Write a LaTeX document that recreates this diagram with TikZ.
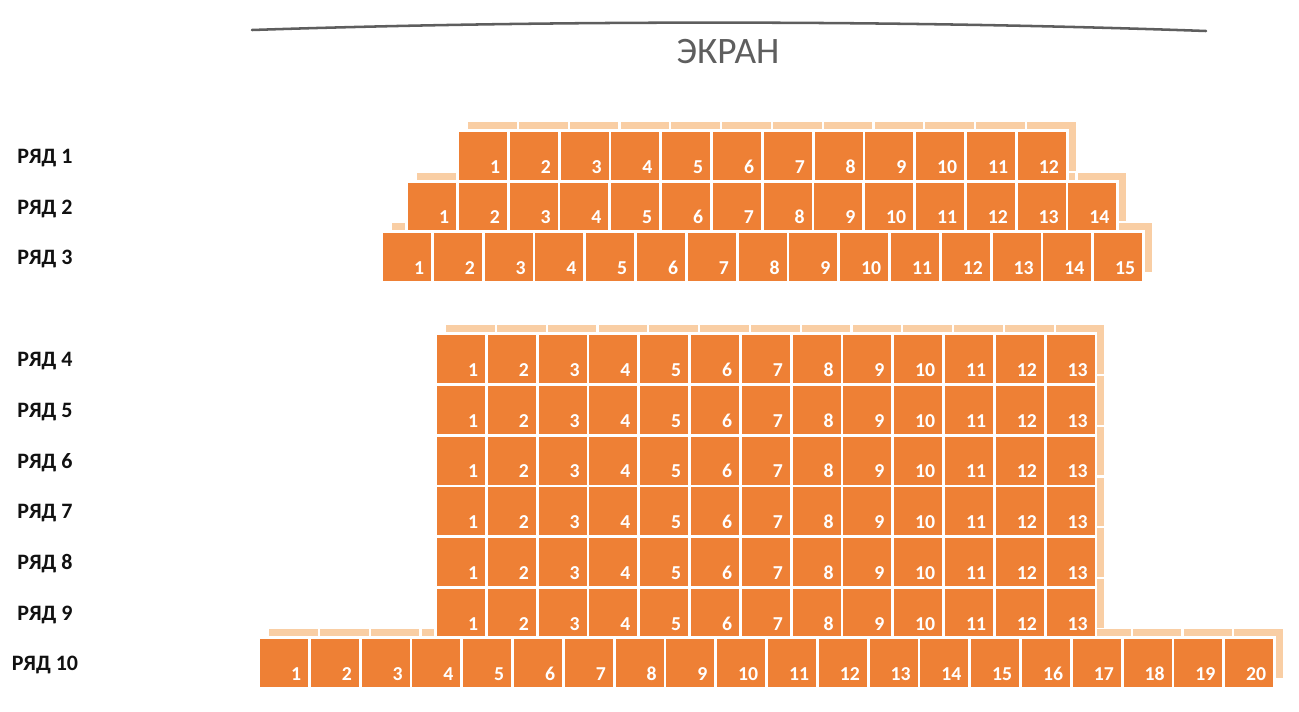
\documentclass[tikz,border=0pt]{standalone}
\usepackage{fontspec}
\setmainfont{Carlito}
\usetikzlibrary{backgrounds}
\definecolor{Seat}{HTML}{EE8035}
\definecolor{Back}{HTML}{F9CEA4}
\definecolor{Ink}{HTML}{111111}
\definecolor{Screen}{HTML}{5E5E5E}
\tikzset{
  seat/.style={rectangle,fill=Seat,minimum width=36pt,minimum height=36pt,inner sep=0pt,preaction={draw=white,line width=4.2pt}},
  back/.style={fill=Back},
  num/.style={anchor=base east,inner sep=0pt,text=white,font=\fontsize{14.8}{15}\selectfont\bfseries},
  rowlbl/.style={anchor=base,inner sep=0pt,text=Ink,font=\fontsize{16.5}{17}\selectfont\bfseries},
  scr/.style={line width=1.9pt,draw=Screen,line cap=round},
  scrlbl/.style={anchor=base,inner sep=0pt,text=Screen,font=\fontsize{28}{28}\selectfont},
}
\newcommand\seatrow[4]{%
  \foreach \i in {1,...,#2}{
    \node[seat] (r#1-\i) at ({#3+24+(\i-1)*50.8},{#4+24}) {};
    \node[num] (n#1-\i) at ([shift={(-7,-7)}]r#1-\i.south east) {\i};
    \begin{scope}[on background layer]
      \fill[back] ([shift={(9.5,-9.5)}]r#1-\i.south west) rectangle ([shift={(9.5,-9.5)}]r#1-\i.north east);
    \end{scope}
  }
  \node[rowlbl] (lbl#1) at (45,{#4+24+7.5}) {РЯД #1};
}

\begin{document}
\begin{tikzpicture}[x=0.75pt,y=-0.75pt]
 \useasboundingbox (0,0) rectangle (1299,711);
 \coordinate (scrL) at (252,30);
 \coordinate (scrR) at (1206,31);
 \draw[scr] (scrL) .. controls (550,20) and (900,20) .. (scrR);
 \node[scrlbl] (screen) at (728,63) {ЭКРАН};
 \seatrow{1}{12}{459}{132}
 \seatrow{2}{14}{408}{182.5}
 \seatrow{3}{15}{383}{233}
 \foreach \rw in {4,...,9}{
   \seatrow{\rw}{13}{437}{335+(\rw-4)*50.8}
 }
 \seatrow{10}{20}{260}{639}
\end{tikzpicture}
\end{document}
